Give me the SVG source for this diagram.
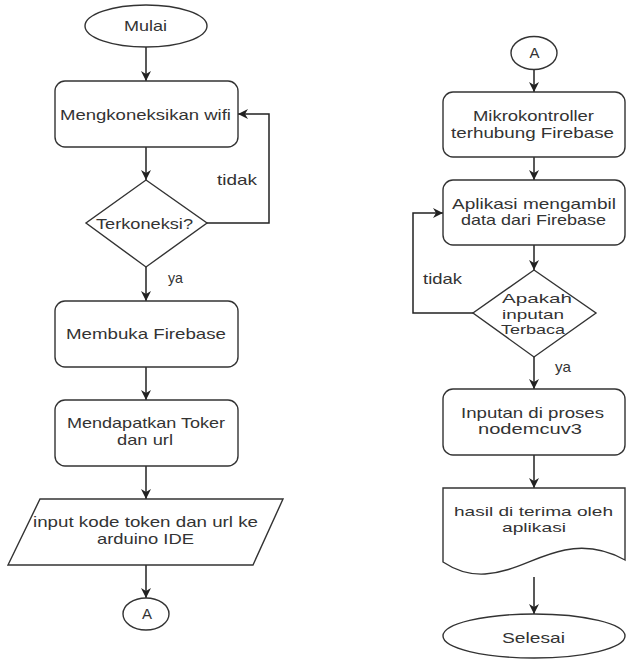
<svg xmlns="http://www.w3.org/2000/svg" width="626" height="659" viewBox="0 0 626 659">
<defs>
<marker id="arr" markerUnits="userSpaceOnUse" markerWidth="11" markerHeight="11" refX="10" refY="5" orient="auto">
<path d="M0,0 L10,5 L0,10 L3,5 z" fill="#222"/>
</marker>
<style>
.s{fill:#fff;stroke:#333;stroke-width:1.4}
.c{fill:none;stroke:#222;stroke-width:1.5;marker-end:url(#arr)}
.t{font-family:"Liberation Sans",Arial,sans-serif;font-size:15px;fill:#333;text-anchor:middle}
.sm{font-size:13.5px}
.l{font-family:"Liberation Sans",Arial,sans-serif;font-size:15px;fill:#333;text-anchor:middle}
</style>
</defs>
<rect width="626" height="659" fill="#fff"/>
<g id="connectors">
<path class="c" d="M146,47 V81"/>
<path class="c" d="M146,147 V180"/>
<path class="c" d="M146,267 V301"/>
<path class="c" d="M146,367 V400"/>
<path class="c" d="M146,466 V499"/>
<path class="c" d="M146,565 V598"/>
<path class="c" d="M207,223 H269 V114 H238"/>
<path class="c" d="M534,70 V92"/>
<path class="c" d="M534,157 V180"/>
<path class="c" d="M534,245 V270"/>
<path class="c" d="M534,357 V389"/>
<path class="c" d="M534,455 V488"/>
<path class="c" d="M534,577 V614"/>
<path class="c" d="M473,313 H413 V213 H443"/>
<text class="l" x="237" y="185" textLength="40" lengthAdjust="spacingAndGlyphs">tidak</text>
<text class="l" x="175.5" y="283" textLength="15" lengthAdjust="spacingAndGlyphs">ya</text>
<text class="l" x="442.5" y="284" textLength="39" lengthAdjust="spacingAndGlyphs">tidak</text>
<text class="l" x="563" y="372" textLength="16" lengthAdjust="spacingAndGlyphs">ya</text>
</g>
<g id="mulai">
<ellipse class="s" cx="146" cy="26" rx="61" ry="21"/>
<text class="t" x="145.5" y="31" textLength="43" lengthAdjust="spacingAndGlyphs">Mulai</text>
</g>
<g id="wifi">
<rect class="s" x="55" y="81" width="183" height="66" rx="10"/>
<text class="t" x="145.5" y="120" textLength="171" lengthAdjust="spacingAndGlyphs">Mengkoneksikan wifi</text>
</g>
<g id="terkoneksi">
<polygon class="s" points="146,180 207,223 146,267 86,223"/>
<text class="t" x="144.5" y="229" textLength="97" lengthAdjust="spacingAndGlyphs">Terkoneksi?</text>
</g>
<g id="firebase">
<rect class="s" x="55" y="301" width="183" height="66" rx="10"/>
<text class="t" x="146" y="339" textLength="160" lengthAdjust="spacingAndGlyphs">Membuka Firebase</text>
</g>
<g id="token">
<rect class="s" x="55" y="400" width="183" height="66" rx="10"/>
<text class="t" x="146" y="428" textLength="158" lengthAdjust="spacingAndGlyphs">Mendapatkan Toker</text>
<text class="t" x="145" y="445" textLength="56" lengthAdjust="spacingAndGlyphs">dan url</text>
</g>
<g id="input">
<polygon class="s" points="40,499 283,499 253,565 8,565"/>
<text class="t" x="145.5" y="527" textLength="225" lengthAdjust="spacingAndGlyphs">input kode token dan url  ke</text>
<text class="t" x="145.5" y="544" textLength="97" lengthAdjust="spacingAndGlyphs">arduino IDE</text>
</g>
<g id="a1">
<ellipse class="s" cx="146" cy="614" rx="23" ry="16"/>
<text class="t" x="147" y="619" font-size="14">A</text>
</g>
<g id="a2">
<ellipse class="s" cx="534" cy="53" rx="23" ry="16.5"/>
<text class="t" x="534.5" y="58" font-size="14">A</text>
</g>
<g id="mikro">
<rect class="s" x="443" y="92" width="182" height="65" rx="10"/>
<text class="t" x="533.5" y="121" textLength="121" lengthAdjust="spacingAndGlyphs">Mikrokontroller</text>
<text class="t" x="532.5" y="138" textLength="163" lengthAdjust="spacingAndGlyphs">terhubung Firebase</text>
</g>
<g id="aplikasi">
<rect class="s" x="443" y="180" width="182" height="65" rx="10"/>
<text class="t" x="534" y="209" textLength="164" lengthAdjust="spacingAndGlyphs">Aplikasi mengambil</text>
<text class="t" x="533.5" y="225" textLength="145" lengthAdjust="spacingAndGlyphs">data dari Firebase</text>
</g>
<g id="apakah">
<polygon class="s" points="534,270 596,313 534,357 473,313"/>
<text class="t sm" x="537" y="303" textLength="70" lengthAdjust="spacingAndGlyphs">Apakah</text>
<text class="t sm" x="533" y="319" textLength="62" lengthAdjust="spacingAndGlyphs">inputan</text>
<text class="t sm" x="533" y="334" textLength="64" lengthAdjust="spacingAndGlyphs">Terbaca</text>
</g>
<g id="proses">
<rect class="s" x="443" y="389" width="182" height="66" rx="10"/>
<text class="t" x="532.5" y="418" textLength="143" lengthAdjust="spacingAndGlyphs">Inputan di proses</text>
<text class="t" x="530" y="434" textLength="104" lengthAdjust="spacingAndGlyphs">nodemcuv3</text>
</g>
<g id="hasil">
<path class="s" d="M443,488 H625 V560 C605,549 585,546 565,550 C535,556 515,572 485,574 C468,575 455,570 443,562 Z"/>
<text class="t sm" x="533.5" y="516" textLength="159" lengthAdjust="spacingAndGlyphs">hasil di terima oleh</text>
<text class="t sm" x="534" y="532" textLength="64" lengthAdjust="spacingAndGlyphs">aplikasi</text>
</g>
<g id="selesai">
<ellipse class="s" cx="534" cy="636" rx="91" ry="22"/>
<text class="t" x="533.5" y="643" textLength="63" lengthAdjust="spacingAndGlyphs">Selesai</text>
</g>
</svg>
